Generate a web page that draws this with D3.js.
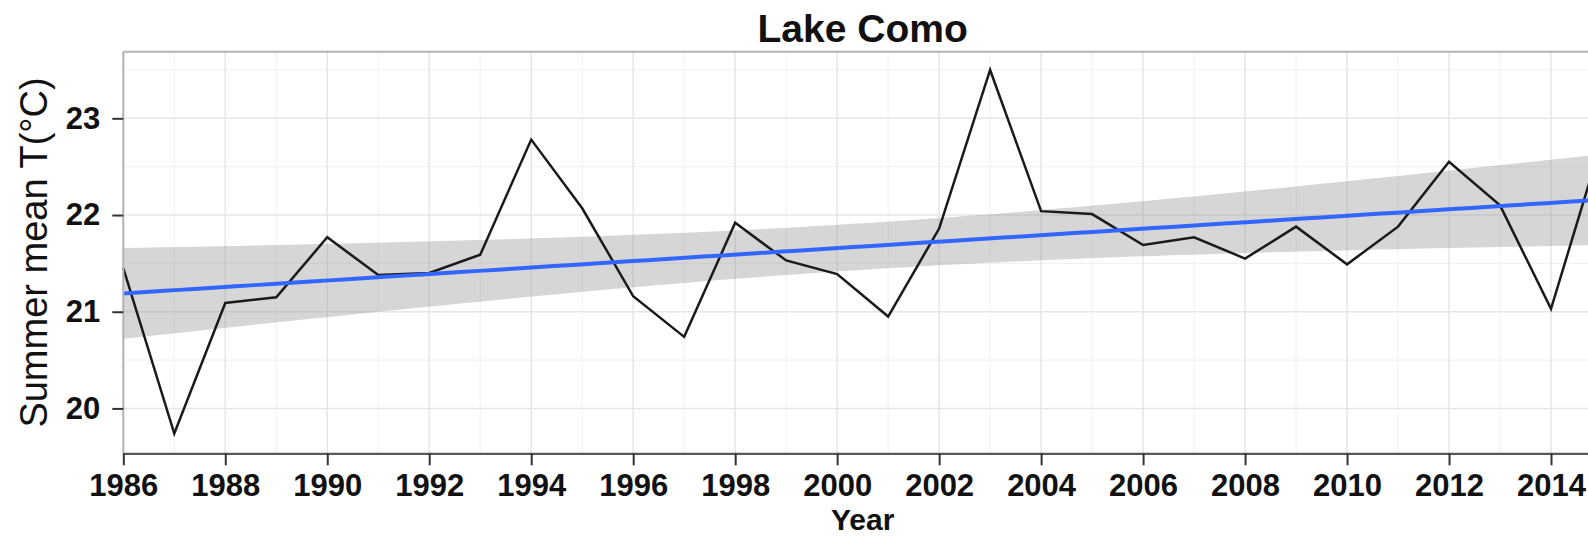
<!DOCTYPE html>
<html>
<head>
<meta charset="utf-8">
<script src="https://cdn.jsdelivr.net/npm/d3@7"></script>
<style>
  html, body { margin: 0; padding: 0; background: #fff; }
  svg { display: block; }
  text { font-family: "Liberation Sans", Arial, Helvetica, sans-serif; }
</style>
</head>
<body>
<svg id="chart" width="1588" height="537"></svg>
<script>
// ---- data ----
const years = [1986,1987,1988,1989,1990,1991,1992,1993,1994,1995,
               1996,1997,1998,1999,2000,2001,2002,2003,2004,2005,
               2006,2007,2008,2009,2010,2011,2012,2013,2014,2015];
const temps = [21.45,19.74,21.09,21.15,21.77,21.38,21.40,21.59,22.78,22.07,
               21.16,20.74,21.92,21.53,21.39,20.95,21.86,23.50,22.04,22.01,
               21.69,21.77,21.55,21.88,21.49,21.88,22.55,22.10,21.03,22.77];
const xTickLabels = [1986,1988,1990,1992,1994,1996,1998,2000,2002,2004,2006,2008,2010,2012,2014];
const yTickLabels = [20,21,22,23];
const chartTitle = "Lake Como";
const xTitle = "Year";
const yTitle = "Summer mean T(\u00B0C)";

// ---- layout ----
const svg = d3.select("#chart");
const pLeft = 123.3, pTop = 51.7, pRight = 1602, pBottom = 453.3;

const x = d3.scaleLinear().domain([1986, 2015]).range([pLeft, pRight]);
const y = d3.scaleLinear().domain([19.536, 23.689]).range([pBottom, pTop]);

// ---- linear fit with 95% confidence band (as geom_smooth(method="lm")) ----
const n = years.length;
const mx = d3.mean(years), my = d3.mean(temps);
let sxx = 0, sxy = 0;
for (let i = 0; i < n; i++) { sxx += (years[i]-mx)**2; sxy += (years[i]-mx)*(temps[i]-my); }
const slope = sxy / sxx, intercept = my - slope * mx;
let sse = 0;
for (let i = 0; i < n; i++) { const r = temps[i] - (intercept + slope*years[i]); sse += r*r; }
const s = Math.sqrt(sse / (n - 2));
const tq = 2.0484; // t(0.975, df=28)
const fitX = d3.range(0, 80).map(i => 1986 + i * (2015 - 1986) / 79);
const fit = fitX.map(t => {
  const yh = intercept + slope * t;
  const se = s * Math.sqrt(1/n + (t - mx)**2 / sxx);
  return {t, yh, lo: yh - tq*se, hi: yh + tq*se};
});

// ---- grid ----
const g = svg.append("g");
const minorYears = d3.range(1987, 2015, 2);
const majorYears = d3.range(1986, 2016, 2);
const minorY = [20.5, 21.5, 22.5, 23.5];

g.selectAll(".vminor").data(minorYears).join("line")
  .attr("x1", d => x(d)).attr("x2", d => x(d)).attr("y1", pTop).attr("y2", pBottom)
  .attr("stroke", "#f2f2f2").attr("stroke-width", 1.2);
g.selectAll(".hminor").data(minorY).join("line")
  .attr("x1", pLeft).attr("x2", pRight).attr("y1", d => y(d)).attr("y2", d => y(d))
  .attr("stroke", "#f2f2f2").attr("stroke-width", 1.2);
g.selectAll(".vmajor").data(majorYears).join("line")
  .attr("x1", d => x(d)).attr("x2", d => x(d)).attr("y1", pTop).attr("y2", pBottom)
  .attr("stroke", "#e6e6e6").attr("stroke-width", 1.5);
g.selectAll(".hmajor").data(yTickLabels).join("line")
  .attr("x1", pLeft).attr("x2", pRight).attr("y1", d => y(d)).attr("y2", d => y(d))
  .attr("stroke", "#e6e6e6").attr("stroke-width", 1.5);

// ---- band ----
svg.append("path").datum(fit)
  .attr("d", d3.area().x(d => x(d.t)).y0(d => y(d.lo)).y1(d => y(d.hi)))
  .attr("fill", "#999999").attr("fill-opacity", 0.4);

// ---- data line ----
svg.append("path").datum(years.map((yr, i) => [yr, temps[i]]))
  .attr("d", d3.line().x(d => x(d[0])).y(d => y(d[1])))
  .attr("fill", "none").attr("stroke", "#1a1a1a").attr("stroke-width", 2.5)
  .attr("stroke-linejoin", "miter");

// ---- fit line ----
svg.append("path").datum(fit)
  .attr("d", d3.line().x(d => x(d.t)).y(d => y(d.yh)))
  .attr("fill", "none").attr("stroke", "#3366FF").attr("stroke-width", 4);

// ---- panel border ----
svg.append("line").attr("x1", pLeft).attr("x2", pRight).attr("y1", pTop).attr("y2", pTop)
  .attr("stroke", "#b3b3b3").attr("stroke-width", 2);
svg.append("line").attr("x1", pLeft).attr("x2", pLeft).attr("y1", pTop).attr("y2", pBottom)
  .attr("stroke", "#b3b3b3").attr("stroke-width", 2);

// ---- axes ----
const xAxis = svg.append("g").attr("transform", `translate(0,${pBottom})`)
  .call(d3.axisBottom(x).tickValues(xTickLabels).tickFormat(d3.format("d"))
        .tickSize(12).tickPadding(9).tickSizeOuter(0));
xAxis.select(".domain").attr("stroke", "#595959").attr("stroke-width", 2.2);
xAxis.selectAll(".tick line").attr("stroke", "#333").attr("stroke-width", 2);
xAxis.selectAll(".tick text").attr("font-size", 31).attr("font-weight", "bold")
  .attr("fill", "#111").style("font-family", "'Liberation Sans', Arial, sans-serif");

const yAxis = svg.append("g").attr("transform", `translate(${pLeft},0)`)
  .call(d3.axisLeft(y).tickValues(yTickLabels).tickFormat(d3.format("d"))
        .tickSize(11).tickPadding(12).tickSizeOuter(0));
yAxis.select(".domain").remove();
yAxis.selectAll(".tick line").attr("stroke", "#333").attr("stroke-width", 2);
yAxis.selectAll(".tick text").attr("font-size", 31).attr("font-weight", "bold")
  .attr("fill", "#111").style("font-family", "'Liberation Sans', Arial, sans-serif");

// ---- titles ----
svg.append("text").attr("x", (pLeft + pRight) / 2).attr("y", 41.5)
  .attr("text-anchor", "middle").attr("font-size", 39).attr("font-weight", "bold")
  .attr("fill", "#111").text(chartTitle);

svg.append("text").attr("x", (pLeft + pRight) / 2).attr("y", 530)
  .attr("text-anchor", "middle").attr("font-size", 30).attr("font-weight", "bold")
  .attr("fill", "#111").text(xTitle);

svg.append("text").attr("transform", `translate(47,${(pTop + pBottom) / 2}) rotate(-90)`)
  .attr("text-anchor", "middle").attr("font-size", 38)
  .attr("fill", "#111").text(yTitle);
</script>
</body>
</html>
